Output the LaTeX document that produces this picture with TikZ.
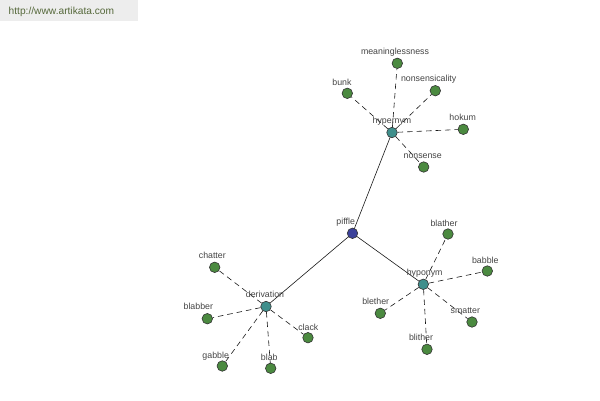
\documentclass[tikz,border=0pt]{standalone}
\usepackage{fontspec}
\setmainfont{Liberation Sans}
\usetikzlibrary{backgrounds}
\begin{document}
\begin{tikzpicture}[x=1pt,y=-1pt,
  dot/.style={circle,draw=black!80,line width=0.6pt,minimum size=10.5pt,inner sep=0pt},
  leaf/.style={dot,fill=leafgreen},
  hub/.style={dot,fill=hubteal},
  root/.style={dot,fill=rootblue},
  lbl/.style={font=\fontsize{8.8}{9}\selectfont,text=labelgray,inner sep=0pt},
  strong/.style={draw=black!90,line width=0.6pt},
  weak/.style={draw=black!90,line width=0.6pt,dash pattern=on 5.5pt off 4pt}]
\definecolor{leafgreen}{HTML}{4B8A40}
\definecolor{hubteal}{HTML}{3F8F8C}
\definecolor{rootblue}{HTML}{3C429A}
\definecolor{labelgray}{HTML}{444444}
\definecolor{wmgreen}{HTML}{55683A}
\useasboundingbox (0,0) rectangle (600,400);

% nodes
\node[root] (piffle) at (352.5,233.3) {};
\node[hub] (hyper) at (392,132.5) {};
\node[hub] (hypo) at (423.3,284.3) {};
\node[hub] (deriv) at (266,306.5) {};

\node[leaf] (meaning) at (397.3,63.3) {};
\node[leaf] (nonsensicality) at (435.3,90.7) {};
\node[leaf] (bunk) at (347.3,93.3) {};
\node[leaf] (hokum) at (463.3,129.3) {};
\node[leaf] (nonsense) at (423.7,167) {};

\node[leaf] (chatter) at (214.7,267.3) {};
\node[leaf] (blabber) at (207.3,318.7) {};
\node[leaf] (gabble) at (222.3,366) {};
\node[leaf] (blab) at (270.7,368.3) {};
\node[leaf] (clack) at (308,337.7) {};

\node[leaf] (blather) at (448,234) {};
\node[leaf] (babble) at (487.3,271) {};
\node[leaf] (blether) at (380.3,313.3) {};
\node[leaf] (smatter) at (472,322) {};
\node[leaf] (blither) at (427,349.3) {};

% background, watermark and edges below the nodes
\begin{scope}[on background layer]
\fill[white] (0,0) rectangle (600,400);
\fill[black!7] (0,0) rectangle (138,21);
\node[anchor=west,inner sep=0pt,text=wmgreen,font=\fontsize{10.2}{11}\selectfont] (wm) at (8.5,11.5) {http://www.artikata.com};
\path[strong] (piffle.center) -- (hyper.center);
\path[strong] (piffle.center) -- (hypo.center);
\path[strong] (piffle.center) -- (deriv.center);
\foreach \t in {meaning,nonsensicality,bunk,hokum,nonsense}
  \path[weak] (hyper) -- (\t);
\foreach \t in {chatter,blabber,gabble,blab,clack}
  \path[weak] (deriv) -- (\t);
\foreach \t in {blather,babble,blether,smatter,blither}
  \path[weak] (hypo) -- (\t);
\end{scope}

% labels
\node[lbl] (l-piffle) at (345.7,222.5) {piffle};
\node[lbl] (l-hyper) at (392,121.3) {hypernym};
\node[lbl] (l-hypo) at (424.7,272.8) {hyponym};
\node[lbl] (l-deriv) at (265,294.3) {derivation};
\node[lbl] (l-meaning) at (395,52.3) {meaninglessness};
\node[lbl] (l-nonsensicality) at (428.7,78.8) {nonsensicality};
\node[lbl] (l-bunk) at (342,82) {bunk};
\node[lbl] (l-hokum) at (462.7,117.8) {hokum};
\node[lbl] (l-nonsense) at (422.7,156.3) {nonsense};
\node[lbl] (l-chatter) at (212.3,255.8) {chatter};
\node[lbl] (l-blabber) at (198.3,306.5) {blabber};
\node[lbl] (l-gabble) at (215.7,355.8) {gabble};
\node[lbl] (l-blab) at (269.3,357) {blab};
\node[lbl] (l-clack) at (308.3,327) {clack};
\node[lbl] (l-blather) at (444,223) {blather};
\node[lbl] (l-babble) at (485.3,260.3) {babble};
\node[lbl] (l-blether) at (375.7,301.5) {blether};
\node[lbl] (l-smatter) at (465.3,310.8) {smatter};
\node[lbl] (l-blither) at (421,337.5) {blither};
\end{tikzpicture}
\end{document}
